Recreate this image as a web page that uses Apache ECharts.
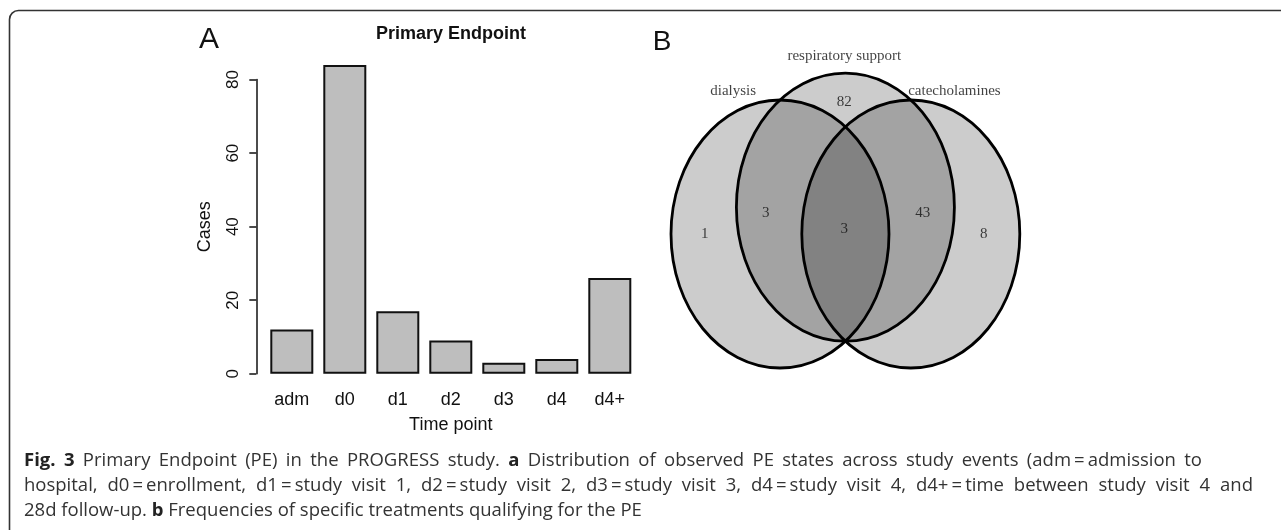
<!DOCTYPE html>
<html>
<head>
<meta charset="utf-8">
<script src="https://cdn.jsdelivr.net/npm/echarts@6/dist/echarts.min.js"></script>
<style>
html,body{margin:0;padding:0;background:#fff;}
#c{width:1281px;height:530px;}
</style>
</head>
<body>
<div id="c"></div>
<script>
// ---- Panel A data ----
var timePoints = ['adm', 'd0', 'd1', 'd2', 'd3', 'd4', 'd4+'];
var cases = [12, 84, 17, 9, 3, 4, 26];
var caseTicks = [0, 20, 40, 60, 80];

// ---- Panel B data (Venn) ----
var setNames = ['dialysis', 'respiratory support', 'catecholamines'];
// set circles in layout units: [cx, cy, rx, ry]
var setCircles = [[0, 0, 1, 1], [0.6, 0.2, 1, 1], [1.2, 0, 1, 1]];
var setNamePos = [[-0.43, 1.07], [0.59, 1.33], [1.6, 1.07]];
var regionCounts = ['1', '3', '3', '43', '8', '82'];
var regionPos = [[-0.69, 0.0], [-0.13, 0.155], [0.59, 0.035], [1.31, 0.155], [1.87, 0.0], [0.59, 0.985]];

// caption: words marked with * are bold
var captionLines = [
  '*Fig. *3 Primary Endpoint (PE) in the PROGRESS study. *a Distribution of observed PE states across study events (adm\u2009=\u2009admission to',
  'hospital, d0\u2009=\u2009enrollment, d1\u2009=\u2009study visit 1, d2\u2009=\u2009study visit 2, d3\u2009=\u2009study visit 3, d4\u2009=\u2009study visit 4, d4+\u2009=\u2009time between study visit 4 and',
  '28d follow-up. *b Frequencies of specific treatments qualifying for the PE'
];
var captionRight = [1202, 1253, null];

var chart = echarts.init(document.getElementById('c'), null, {renderer: 'canvas'});
var sans = 'Liberation Sans, Arial, Helvetica, sans-serif';
var serif = 'Liberation Serif, Times New Roman, serif';
var capFont = '18.5px "Open Sans", "Noto Sans", sans-serif';
var capBold = 'bold 18.5px "Open Sans", "Noto Sans", sans-serif';

function txt(x, y, text, font, align) {
  return {
    type: 'text', x: x, y: y, silent: true,
    style: {text: text, font: font, fill: '#111', textAlign: align || 'center', textVerticalAlign: 'middle',
            align: align || 'center', verticalAlign: 'middle'}
  };
}

var graphics = [
  {type: 'rect', shape: {x: 9.5, y: 10.5, width: 1320, height: 560, r: 9}, style: {fill: 'none', stroke: '#333', lineWidth: 1.6}, silent: true, z: 0},
  txt(209, 40, 'A', '30px ' + sans),
  txt(662, 42, 'B', '28px ' + sans),
  txt(451, 34, 'Primary Endpoint', 'bold 18px ' + sans)
];

var mctx = document.createElement('canvas').getContext('2d');
function measure(t, f) { mctx.font = f; return mctx.measureText(t).width; }
var spaceW = measure(' ', capFont);
captionLines.forEach(function (line, i) {
  var words = line.split(' ').map(function (w) {
    var b = w.charAt(0) === '*';
    var t = b ? w.slice(1) : w;
    return {t: t, b: b, w: measure(t, b ? capBold : capFont)};
  });
  var total = words.reduce(function (s, w) { return s + w.w; }, 0);
  var gap = spaceW;
  if (captionRight[i] && words.length > 1) {
    gap = Math.max(spaceW * 0.8, (captionRight[i] - 24 - total) / (words.length - 1));
  }
  var x = 24;
  words.forEach(function (w) {
    graphics.push({
      type: 'text', x: x, y: 461 + i * 25, silent: true,
      style: {text: w.t, font: w.b ? capBold : capFont, fill: w.b ? '#222' : '#333',
              textVerticalAlign: 'middle', verticalAlign: 'middle'}
    });
    x += w.w + gap;
  });
});

var option = {
  animation: false,
  backgroundColor: '#fff',
  graphic: graphics,
  grid: [
    {left: 265.3, width: 371, top: 79.6, height: 294.1, containLabel: false},
    {left: 649.2, width: 392.4, top: 19.6, height: 375.2, containLabel: false}
  ],
  xAxis: [
    {
      type: 'category', gridIndex: 0, data: timePoints,
      axisLine: {show: false}, axisTick: {show: false},
      axisLabel: {fontSize: 18, fontFamily: sans, color: '#111', margin: 17},
      name: 'Time point', nameLocation: 'middle', nameGap: 42,
      nameTextStyle: {fontSize: 18, fontFamily: sans, color: '#111'}
    },
    {type: 'value', gridIndex: 1, min: -1.2, max: 2.4, show: false}
  ],
  yAxis: [
    {
      type: 'value', gridIndex: 0, min: 0, max: 80, interval: 20, offset: 9,
      splitLine: {show: false},
      axisLine: {show: true, lineStyle: {color: '#111', width: 1.5}},
      axisTick: {show: true, length: 7, lineStyle: {color: '#111', width: 1.5}},
      axisLabel: {rotate: 90, fontSize: 17, fontFamily: sans, color: '#111', margin: 14},
      name: 'Cases', nameLocation: 'middle', nameRotate: 90, nameGap: 42,
      nameTextStyle: {fontSize: 18, fontFamily: sans, color: '#111'}
    },
    {type: 'value', gridIndex: 1, min: -1.2, max: 1.6, show: false}
  ],
  series: [
    {
      type: 'bar', xAxisIndex: 0, yAxisIndex: 0, data: cases, clip: false,
      barWidth: 43,
      itemStyle: {color: '#bebebe', borderColor: '#111', borderWidth: 2}
    },
    {
      type: 'custom', xAxisIndex: 1, yAxisIndex: 1, data: setCircles, clip: false, z: 2,
      renderItem: function (params, api) {
        var c = api.coord([api.value(0), api.value(1)]);
        var s = api.size([api.value(2), api.value(3)]);
        return {type: 'ellipse', shape: {cx: c[0], cy: c[1], rx: s[0], ry: s[1]},
                style: {fill: 'rgba(0,0,0,0.2)', stroke: 'none'}};
      }
    },
    {
      type: 'custom', xAxisIndex: 1, yAxisIndex: 1, data: setCircles, clip: false, z: 3,
      renderItem: function (params, api) {
        var c = api.coord([api.value(0), api.value(1)]);
        var s = api.size([api.value(2), api.value(3)]);
        return {type: 'ellipse', shape: {cx: c[0], cy: c[1], rx: s[0], ry: s[1]},
                style: {fill: 'none', stroke: '#000', lineWidth: 2.8}};
      }
    },
    {
      type: 'scatter', xAxisIndex: 1, yAxisIndex: 1, symbolSize: 0, z: 4, silent: true,
      data: regionPos.map(function (p, i) { return {value: p, name: regionCounts[i]}; }),
      label: {show: true, position: 'inside', formatter: '{b}', fontFamily: serif, fontSize: 15, color: '#111'}
    },
    {
      type: 'scatter', xAxisIndex: 1, yAxisIndex: 1, symbolSize: 0, z: 4, silent: true,
      data: setNamePos.map(function (p, i) { return {value: p, name: setNames[i]}; }),
      label: {show: true, position: 'inside', formatter: '{b}', fontFamily: serif, fontSize: 15, color: '#111'}
    }
  ]
};
chart.setOption(option);
</script>
</body>
</html>
